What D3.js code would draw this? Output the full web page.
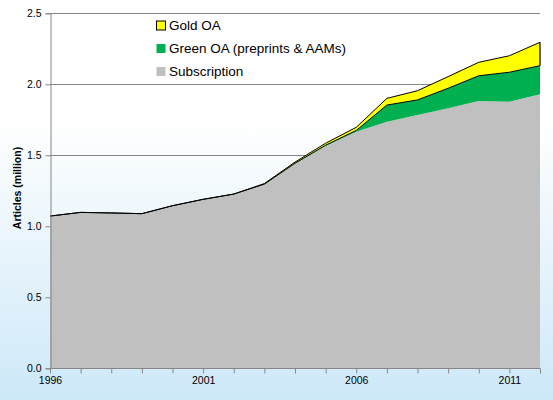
<!DOCTYPE html>
<html><head><meta charset="utf-8">
<script src="https://cdn.jsdelivr.net/npm/d3@7"></script>
<style>html,body{margin:0;padding:0;}svg{display:block;}</style>
</head><body>
<script>
const years = [1996,1997,1998,1999,2000,2001,2002,2003,2004,2005,2006,2007,2008,2009,2010,2011,2012];
const subscription = [1.072,1.098,1.094,1.089,1.145,1.19,1.227,1.295,1.44,1.565,1.665,1.737,1.784,1.831,1.882,1.877,1.93];
const greenOA = [0,0,0,0,0,0,0,0.002,0.004,0.006,0.01,0.117,0.106,0.141,0.178,0.208,0.201];
const goldOA = [0,0,0,0,0,0,0,0.004,0.008,0.014,0.022,0.047,0.065,0.082,0.095,0.116,0.165];
const yTicks = [0,0.5,1.0,1.5,2.0,2.5];
const xLabelYears = [1996,2001,2006,2011];
const seriesNames = ["Subscription","Green OA (preprints & AAMs)","Gold OA"];
const legendOrder = ["Gold OA","Green OA (preprints & AAMs)","Subscription"];

const W=553,H=400;
const m={l:50,r:13,t:13.3,b:31.7};
const svg=d3.select("body").append("svg").attr("width",W).attr("height",H);
const defs=svg.append("defs");
const grad=defs.append("linearGradient").attr("id","bg").attr("x1",0).attr("y1",0).attr("x2",0).attr("y2",1);
grad.append("stop").attr("offset","0%").attr("stop-color","#ffffff");
grad.append("stop").attr("offset","30%").attr("stop-color","#ffffff");
grad.append("stop").attr("offset","100%").attr("stop-color","#cde8f8");
svg.append("rect").attr("width",W).attr("height",H).attr("fill","url(#bg)");

const x=d3.scaleLinear().domain([years[0],years[years.length-1]]).range([m.l,W-m.r]);
const y=d3.scaleLinear().domain([0,2.5]).range([H-m.b,m.t]);

const table=years.map((yr,i)=>({year:yr,"Subscription":subscription[i],"Green OA (preprints & AAMs)":greenOA[i],"Gold OA":goldOA[i]}));
const stack=d3.stack().keys(seriesNames)(table);
const colors={"Subscription":"#c0c0c0","Green OA (preprints & AAMs)":"#00b050","Gold OA":"#ffff00"};

// gridlines
svg.append("g").selectAll("line").data(yTicks.filter(d=>d>0)).join("line")
 .attr("x1",m.l).attr("x2",W-m.r).attr("y1",d=>Math.round(y(d))+0.5).attr("y2",d=>Math.round(y(d))+0.5)
 .attr("stroke","#868686").attr("stroke-width",1);

const area=d3.area().x(d=>x(d.data.year)).y0(d=>y(d[0])).y1(d=>y(d[1]));
svg.append("g").selectAll("path").data(stack).join("path")
 .attr("d",area).attr("fill",d=>colors[d.key]);

// top outlines for green and gold
const topLine=d3.line().x(d=>x(d.data.year)).y(d=>y(d[1]));
svg.append("g").selectAll("path").data(stack.filter(s=>s.key!=="Subscription")).join("path")
 .attr("d",topLine).attr("fill","none").attr("stroke","#000").attr("stroke-width",1);
// right edge of gold band
const last=years.length-1;
svg.append("line").attr("x1",x(years[last])).attr("x2",x(years[last]))
 .attr("y1",y(stack[1][last][1])).attr("y2",y(stack[2][last][1])).attr("stroke","#000").attr("stroke-width",1.2);

// axes
const yAxis=d3.axisLeft(y).tickValues(yTicks).tickFormat(d3.format(".1f")).tickSize(5).tickPadding(4);
const gy=svg.append("g").attr("transform",`translate(${m.l+0.5},0)`).call(yAxis);
const xAxis=d3.axisBottom(x).tickValues(years).tickFormat(d=>xLabelYears.includes(d)?d:"").tickSize(5).tickPadding(3);
const gx=svg.append("g").attr("transform",`translate(0,${Math.round(y(0))+0.5})`).call(xAxis);
[gx,gy].forEach(g=>{
 g.select(".domain").attr("stroke","#868686");
 g.selectAll(".tick line").attr("stroke","#868686");
 g.selectAll("text").attr("font-family","Arial, 'Liberation Sans', sans-serif").attr("font-size","10.5px").attr("fill","#000");
});
gx.select(".domain").attr("d",`M${m.l},0H${W-m.r}`);

svg.append("text").attr("transform",`translate(${21},${188}) rotate(-90)`)
 .attr("text-anchor","middle").attr("font-family","Arial, 'Liberation Sans', sans-serif")
 .attr("font-size","10.5px").attr("font-weight","bold").text("Articles (million)");

// legend
const lg=svg.append("g");
legendOrder.forEach((k,i)=>{
 const cy=25.5+i*23;
 lg.append("rect").attr("x",156.5).attr("y",cy-4.5).attr("width",9).attr("height",9)
  .attr("fill",colors[k]).attr("stroke",k==="Gold OA"?"#000":"none").attr("stroke-width",1);
 lg.append("text").attr("x",169).attr("y",cy).attr("dy","0.36em")
  .attr("font-family","Arial, 'Liberation Sans', sans-serif").attr("font-size","13.5px").attr("fill","#000").text(k);
});
</script>
</body></html>
